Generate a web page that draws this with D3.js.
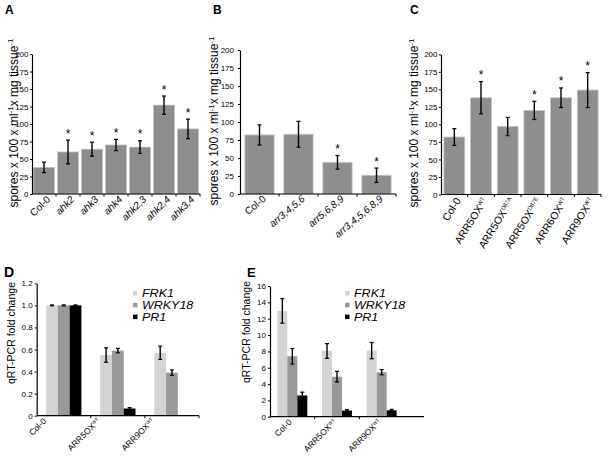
<!DOCTYPE html>
<html><head><meta charset="utf-8">
<script src="https://cdn.jsdelivr.net/npm/d3@7"></script>
<style>body{margin:0;background:#fff}svg{display:block;font-family:Arial,"Liberation Sans",sans-serif}</style>
</head><body><svg id="c" width="608" height="461"></svg>
<script>
// ---------- Panel A ----------
const catsA = ["Col-0","ahk2","ahk3","ahk4","ahk2,3","ahk2,4","ahk3,4"];
const valsA = [38,60,64,70,67,127,93];
const errA  = [7.5,17,10,8,9,13,14];
const starA = [false,true,true,true,true,true,true];
// ---------- Panel B ----------
const catsB = ["Col-0","arr3,4,5,6","arr5,6,8,9","arr3,4,5,6,8,9"];
const valsB = [82,83,44,26];
const errB  = [14,18,9.5,10];
const starB = [false,false,true,true];
// ---------- Panel C ----------
const catsC = ["Col-0","ARR5OX","ARR5OX","ARR5OX","ARR6OX","ARR9OX"];
const supC  = ["","WT","D87A","D87E","WT","WT"];
const valsC = [82,138,97,120,138,149];
const errC  = [12,23,13,13,14,25];
const starC = [false,true,false,true,true,true];
const sporeTicks = [0,25,50,75,100,125,150,175,200];
// ---------- Panels D / E ----------
const catsDE = ["Col-0","ARR5OX","ARR9OX"];
const supDE  = ["","WT","WT"];
const genes  = ["FRK1","WRKY18","PR1"];
const geneColors = ["#d3d3d3","#999999","#000000"];
const dFRK1 = [1.0,0.55,0.57],   dFRK1Err = [0.004,0.065,0.06];
const dWRKY18 = [1.0,0.59,0.39], dWRKY18Err = [0.004,0.02,0.025];
const dPR1 = [1.0,0.065,0],      dPR1Err = [0.004,0.008,0];
const eFRK1 = [12.95,8.05,8.1],  eFRK1Err = [1.5,0.9,1.0];
const eWRKY18 = [7.4,4.9,5.45],  eWRKY18Err = [0.95,0.65,0.32];
const ePR1 = [2.6,0.75,0.78],    ePR1Err = [0.4,0.1,0.12];
const dTicks = [0,0.2,0.4,0.6,0.8,1.0,1.2];
const eTicks = [0,2,4,6,8,10,12,14,16];

const svg = d3.select("#c");

function yAxis(g, y, x0, ticks, fmt, pad) {
  const ax = g.append("g").attr("transform", `translate(${x0},0)`)
    .call(d3.axisLeft(y).tickValues(ticks).tickSize(2).tickSizeOuter(0).tickPadding(pad).tickFormat(fmt));
  ax.select(".domain").attr("stroke", "#000").attr("stroke-width", 1.2);
  ax.selectAll(".tick line").attr("stroke", "#000");
  ax.selectAll(".tick text").attr("font-size", "8px").attr("fill", "#000").attr("font-family", "Arial, 'Liberation Sans', sans-serif");
}

function xLabels(g, x, cats, sups, yb, o) {
  cats.forEach((c, i) => {
    const cx = x(i) + x.bandwidth() / 2 + o.dx;
    const t = g.append("text")
      .attr("transform", `translate(${cx},${yb + o.dy}) rotate(${-o.angle})`)
      .attr("text-anchor", "end").attr("font-size", o.fs + "px").attr("fill", "#000");
    t.append("tspan").text(c).attr("font-style", (o.italic && c !== "Col-0") ? "italic" : "normal");
    if (sups && sups[i]) t.append("tspan").text(sups[i]).attr("font-size", (o.fs * 0.55) + "px").attr("dy", -o.fs * 0.35);
  });
}

function errorBar(g, cx, yTop, yBot, cap) {
  g.append("line").attr("x1", cx).attr("x2", cx).attr("y1", yTop).attr("y2", yBot).attr("stroke", "#000").attr("stroke-width", 1.4);
  [yTop, yBot].forEach(yy => g.append("line").attr("x1", cx - cap).attr("x2", cx + cap).attr("y1", yy).attr("y2", yy).attr("stroke", "#000").attr("stroke-width", 1.2));
}

function sporeLabel(x, y) {
  const t = svg.append("text").attr("transform", `translate(${x},${y}) rotate(-90)`)
    .attr("text-anchor", "middle").attr("font-size", "12px").attr("fill", "#000");
  t.append("tspan").text("spores x 100 x ml");
  t.append("tspan").text("-1").attr("font-size", "8px").attr("dy", -4.5);
  t.append("tspan").text("x mg tissue").attr("dy", 4.5);
  t.append("tspan").text("-1").attr("font-size", "8px").attr("dy", -4.5);
}

function simplePanel(o) {
  const g = svg.append("g");
  const x = d3.scaleBand().domain(d3.range(o.cats.length)).range([o.x0, o.x1]);
  const y = d3.scaleLinear().domain([0, 200]).range([o.yb, o.yt]);
  const bw = x.bandwidth() * o.barFrac;
  g.selectAll("rect.bar").data(o.vals).join("rect").attr("class", "bar")
    .attr("x", (d, i) => x(i) + (x.bandwidth() - bw) / 2).attr("y", d => y(d))
    .attr("width", bw).attr("height", d => y(0) - y(d))
    .attr("fill", "#8e8e8e").attr("stroke", "#c4c4c4").attr("stroke-width", 0.8);
  o.vals.forEach((v, i) => {
    const cx = x(i) + x.bandwidth() / 2;
    errorBar(g, cx, y(v + o.err[i]), y(v - o.err[i]), 2);
    if (o.star[i]) g.append("text").attr("x", cx).attr("y", y(v + o.err[i]) - 2.5)
      .attr("text-anchor", "middle").attr("font-size", "12px").attr("fill", "#000").text("*");
  });
  yAxis(g, y, o.x0, sporeTicks, d3.format("d"), o.pad);
  g.append("line").attr("x1", o.x0).attr("x2", o.x1).attr("y1", o.yb).attr("y2", o.yb).attr("stroke", "#000").attr("stroke-width", 1.2);
  d3.range(1, o.cats.length + 1).forEach(i => {
    const bx = o.x0 + x.step() * i;
    g.append("line").attr("x1", bx).attr("x2", bx).attr("y1", o.yb).attr("y2", o.yb + 2.5).attr("stroke", "#000");
  });
  xLabels(g, x, o.cats, o.sups, o.yb, o.lbl);
  g.append("text").attr("x", o.letter[0]).attr("y", o.letter[1]).attr("font-size", "12px").attr("font-weight", "bold").text(o.letter[2]);
  sporeLabel(o.ylab[0], o.ylab[1]);
}

simplePanel({cats: catsA, vals: valsA, err: errA, star: starA, x0: 32, x1: 200, yb: 194, yt: 54, barFrac: 0.88, pad: 1.5,
  lbl: {dx: 7, dy: 6, angle: 45, fs: 10, italic: true}, letter: [5, 13.5, "A"], ylab: [17.5, 123]});
simplePanel({cats: catsB, vals: valsB, err: errB, star: starB, x0: 240, x1: 396, yb: 194, yt: 50, barFrac: 0.75, pad: 4,
  lbl: {dx: 7, dy: 6, angle: 40, fs: 10, italic: true}, letter: [213, 13.5, "B"], ylab: [218, 121]});
simplePanel({cats: catsC, sups: supC, vals: valsC, err: errC, star: starC, x0: 441, x1: 601, yb: 194.5, yt: 54.3, barFrac: 0.78, pad: 1.5,
  lbl: {dx: 7, dy: 6, angle: 58, fs: 10.5, italic: false}, letter: [410, 13.5, "C"], ylab: [418, 123]});

function groupedPanel(o) {
  const g = svg.append("g");
  const x = d3.scaleBand().domain(d3.range(o.cats.length)).range([o.x0, o.x1]);
  const inner = d3.scaleBand().domain(genes).range([0, o.groupW]);
  const y = d3.scaleLinear().domain([0, o.ymax]).range([o.yb, o.yt]);
  const off = (x.bandwidth() - o.groupW) / 2;
  o.series.forEach((s, si) => {
    g.selectAll(null).data(s.vals).join("rect")
      .attr("x", (d, i) => x(i) + off + inner(genes[si])).attr("y", d => y(d))
      .attr("width", inner.bandwidth()).attr("height", d => y(0) - y(d))
      .attr("fill", geneColors[si]);
  });
  o.series.forEach((s, si) => {
    s.vals.forEach((v, i) => {
      if (!v) return;
      const cx = x(i) + off + inner(genes[si]) + inner.bandwidth() / 2;
      errorBar(g, cx, y(v + s.err[i]), y(v - s.err[i]), 2);
    });
  });
  yAxis(g, y, o.x0, o.ticks, o.fmt, 2);
  g.append("line").attr("x1", o.x0).attr("x2", o.axisEnd).attr("y1", o.yb).attr("y2", o.yb).attr("stroke", "#000").attr("stroke-width", 1.2);
  d3.range(1, o.nTicks + 1).forEach(i => {
    const bx = o.x0 + x.step() * i;
    g.append("line").attr("x1", bx).attr("x2", bx).attr("y1", o.yb).attr("y2", o.yb + 2.5).attr("stroke", "#000");
  });
  xLabels(g, x, o.cats, supDE, o.yb, o.lbl);
  // legend
  genes.forEach((gn, i) => {
    const cy = o.leg[1] + i * 11.8;
    g.append("rect").attr("x", o.leg[0]).attr("y", cy - 2).attr("width", 4.5).attr("height", 4.5).attr("fill", geneColors[i]);
    g.append("text").attr("transform", `translate(${o.leg[0] + 9},${cy + 4}) scale(1.25,1)`)
      .attr("font-size", "10px").attr("font-style", "italic").attr("fill", "#000").text(gn);
  });
  g.append("text").attr("x", o.letter[0]).attr("y", o.letter[1]).attr("font-size", o.letter[3]).attr("font-weight", "bold").text(o.letter[2]);
  g.append("text").attr("transform", `translate(${o.ylab[0]},${o.ylab[1]}) rotate(-90)`)
    .attr("text-anchor", "middle").attr("font-size", "10.5px").attr("fill", "#000").text("qRT-PCR fold change");
}

groupedPanel({cats: catsDE, x0: 36.7, x1: 199, axisEnd: 199, nTicks: 3, yb: 415.7, yt: 283.3, ymax: 1.2, groupW: 35.3,
  ticks: dTicks, fmt: d => d === 0 ? "0" : d.toFixed(1),
  series: [{vals: dFRK1, err: dFRK1Err}, {vals: dWRKY18, err: dWRKY18Err}, {vals: dPR1, err: dPR1Err}],
  lbl: {dx: -17, dy: 6, angle: 45, fs: 8.5, italic: false}, leg: [133, 293], letter: [4, 277, "D", "14px"], ylab: [15, 333]});
groupedPanel({cats: catsDE, x0: 270, x1: 404, axisEnd: 424, nTicks: 2, yb: 416.7, yt: 286, ymax: 16, groupW: 30,
  ticks: eTicks, fmt: d3.format("d"),
  series: [{vals: eFRK1, err: eFRK1Err}, {vals: eWRKY18, err: eWRKY18Err}, {vals: ePR1, err: ePR1Err}],
  lbl: {dx: 0, dy: 6, angle: 45, fs: 8.5, italic: false}, leg: [345, 293], letter: [247, 277, "E", "13px"], ylab: [250, 332]});
</script></body></html>
